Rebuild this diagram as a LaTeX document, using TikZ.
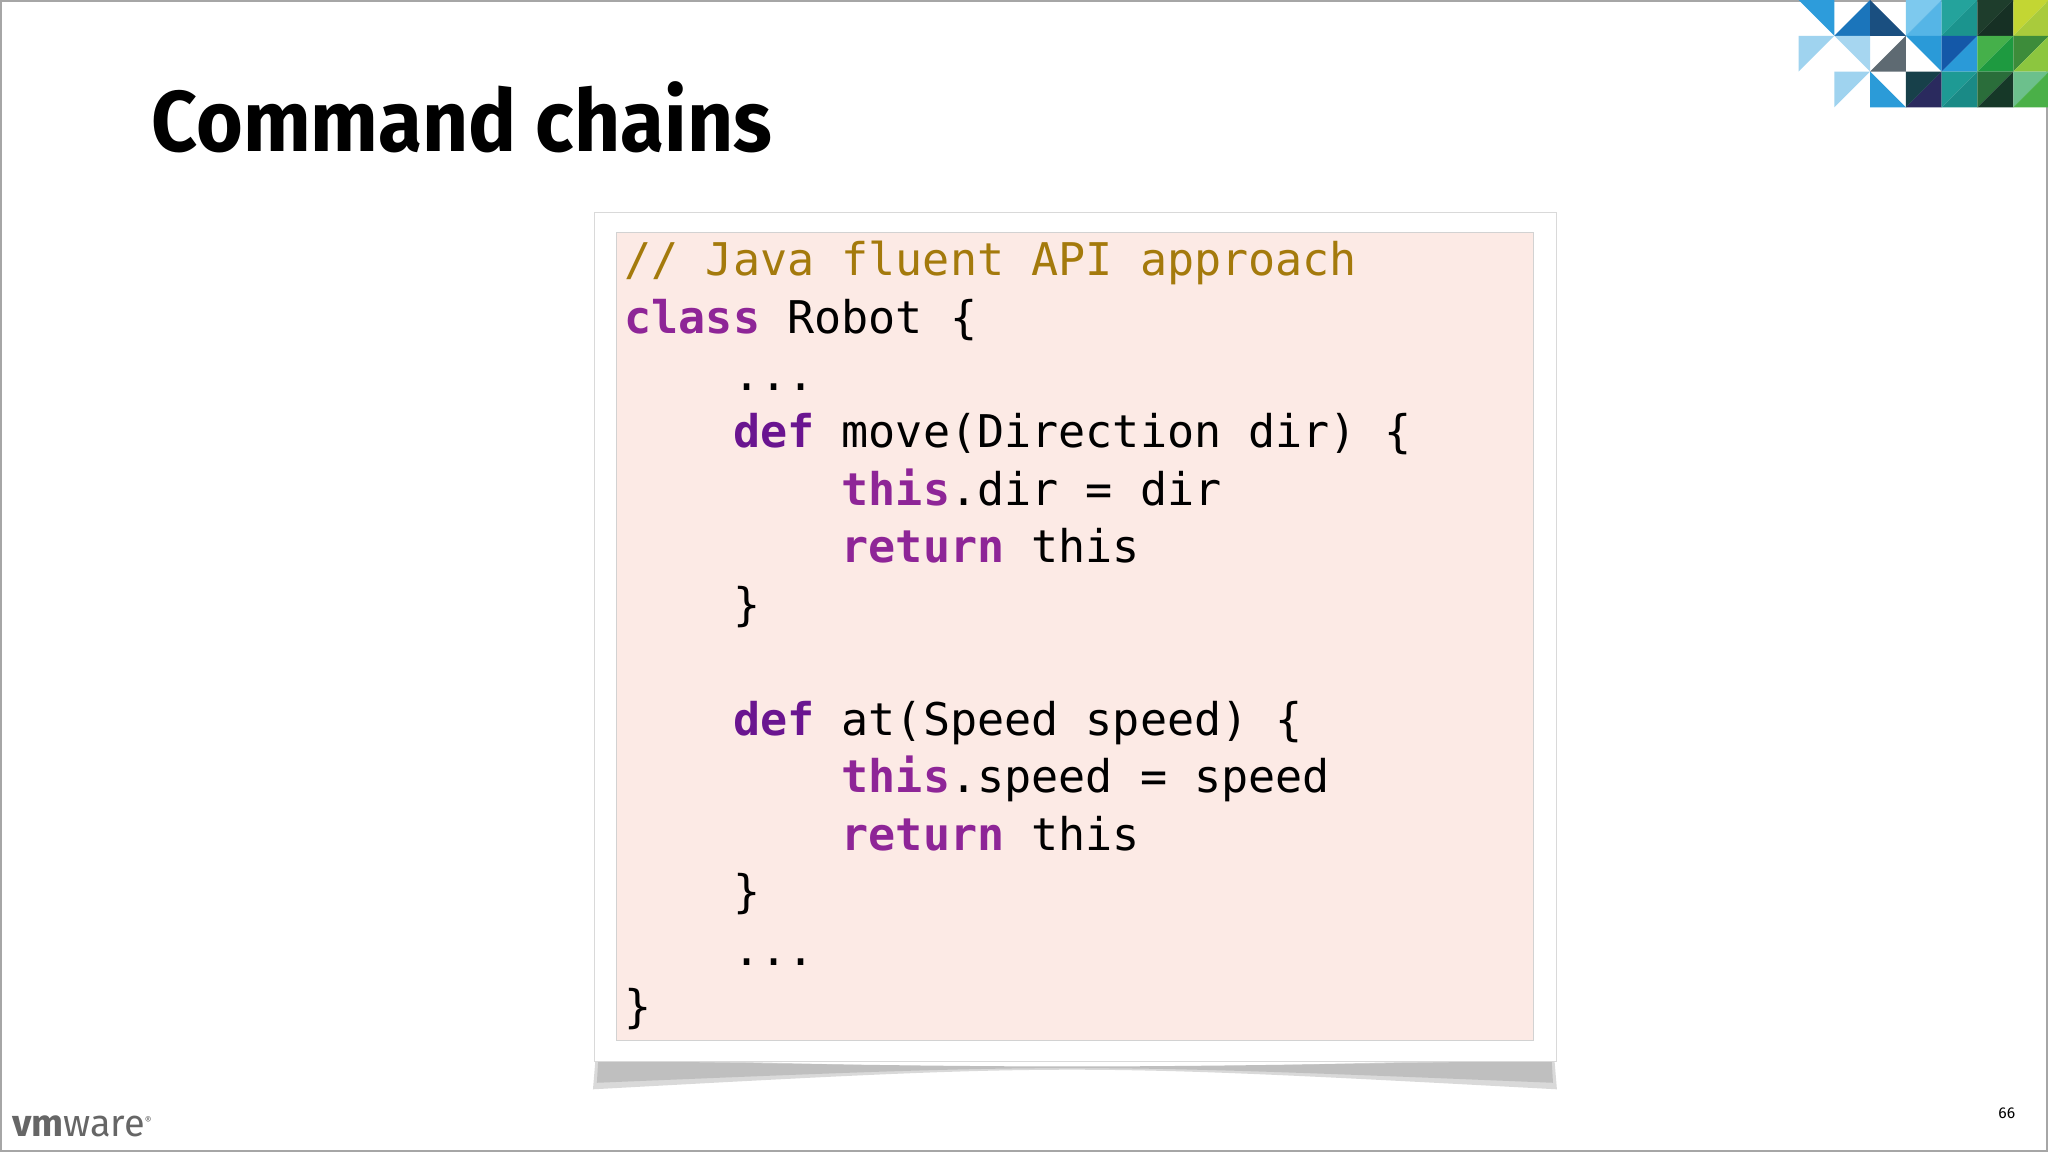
\documentclass[tikz,border=0pt]{standalone}
\usepackage{fontspec}
\setmainfont{Fira Sans}
\newfontfamily\codefont{DejaVu Sans Mono}
\newfontfamily\titlefont{Fira Sans}
\definecolor{cmt}{HTML}{A47A0C}
\definecolor{kw}{HTML}{8E2597}
\definecolor{kwd}{HTML}{6A1590}
\definecolor{codebg}{HTML}{FCEAE5}
\newcommand{\K}[1]{\textbf{\textcolor{kw}{#1}}}
\newcommand{\D}[1]{\textbf{\textcolor{kwd}{#1}}}
\begin{document}
\begin{tikzpicture}[x=1pt,y=-1pt,
  codeline/.style={anchor=base west,inner sep=0pt,font=\codefont\fontsize{34.5}{44}\selectfont}]
\useasboundingbox (0,0) rectangle (1568,882);
\fill[white] (0,0) rectangle (1568,882);
\draw[gray!70,line width=1.2] (0.6,0.6) rectangle (1567.4,881.4);
% corner triangles
\def\cs{27.4}
\def\ox{1377}
\newcommand{\UL}[3]{\definecolor{tc}{HTML}{#3}\fill[tc] ({\ox+#1*\cs},{#2*\cs}) -- ++(\cs,0) -- ++(-\cs,\cs) -- cycle;}
\newcommand{\UR}[3]{\definecolor{tc}{HTML}{#3}\fill[tc] ({\ox+#1*\cs},{#2*\cs}) -- ++(\cs,0) -- ++(0,\cs) -- cycle;}
\newcommand{\LL}[3]{\definecolor{tc}{HTML}{#3}\fill[tc] ({\ox+#1*\cs},{#2*\cs}) -- ++(0,\cs) -- ++(\cs,0) -- cycle;}
\newcommand{\LR}[3]{\definecolor{tc}{HTML}{#3}\fill[tc] ({\ox+#1*\cs+\cs},{#2*\cs}) -- ++(0,\cs) -- ++(-\cs,0) -- cycle;}
\UR{0}{0}{2D9CDB}
\LR{1}{0}{1B75BB}
\LL{2}{0}{1A4F80}
\UL{3}{0}{7DC9EE}\LR{3}{0}{55B5E6}
\UL{4}{0}{24A39C}\LR{4}{0}{1B948E}
\UL{5}{0}{1E3D2C}\LR{5}{0}{163024}
\UL{6}{0}{C3D633}\LR{6}{0}{A9CB3C}
\UL{0}{1}{9FD3EF}
\UR{1}{1}{A6D6F0}
\LR{2}{1}{5E6A72}
\UR{3}{1}{2A9AD8}
\UL{4}{1}{1458A8}\LR{4}{1}{2A9AD8}
\UL{5}{1}{45B04A}\LR{5}{1}{1E9A40}
\UL{6}{1}{3D8C3A}\LR{6}{1}{8CC63F}
\UL{1}{2}{9FD3EF}
\LL{2}{2}{2B9BD8}
\UL{3}{2}{17404A}\LR{3}{2}{2A2A5E}
\UL{4}{2}{1E9A94}\LR{4}{2}{1A8A86}
\UL{5}{2}{2A6D3A}\LR{5}{2}{163828}
\UL{6}{2}{6CC08C}\LR{6}{2}{4AB048}
% title
\node[anchor=base west,inner sep=0pt,font=\titlefont\fontsize{66}{70}\selectfont\bfseries,xscale=0.93] (title) at (116,116) {Command chains};
% frame with shadow
\fill[gray!30] (456,810) .. controls (820,820) .. (1190,810) -- (1192,834) .. controls (820,814) .. (454,834) -- cycle;
\fill[gray!50] (458,812) .. controls (820,818) .. (1188,812) -- (1189,829) .. controls (820,814) .. (457,829) -- cycle;
\node[draw=gray!30,fill=white,minimum width=736,minimum height=650,inner sep=0pt,anchor=north west] (frame) at (455,162) {};
\node[draw=gray!35,fill=codebg,minimum width=702,minimum height=618,inner sep=0pt,anchor=north west] (code) at (472,178) {};
% code lines
\def\bx{478}
\node[codeline,text=cmt] (l0) at (\bx,211) {// Java fluent API approach};
\node[codeline] (l1) at (\bx,255) {\K{class} Robot \{};
\node[codeline] (l2) at (\bx,299) {\phantom{xxxx}...};
\node[codeline] (l3) at (\bx,343) {\phantom{xxxx}\D{def} move(Direction dir) \{};
\node[codeline] (l4) at (\bx,387) {\phantom{xxxxxxxx}\K{this}.dir = dir};
\node[codeline] (l5) at (\bx,431) {\phantom{xxxxxxxx}\K{return} this};
\node[codeline] (l6) at (\bx,475) {\phantom{xxxx}\}};
\node[codeline] (l8) at (\bx,563) {\phantom{xxxx}\D{def} at(Speed speed) \{};
\node[codeline] (l9) at (\bx,607) {\phantom{xxxxxxxx}\K{this}.speed = speed};
\node[codeline] (l10) at (\bx,651) {\phantom{xxxxxxxx}\K{return} this};
\node[codeline] (l11) at (\bx,695) {\phantom{xxxx}\}};
\node[codeline] (l12) at (\bx,739) {\phantom{xxxx}...};
\node[codeline] (l13) at (\bx,783) {\}};
% footer
\node[anchor=base west,inner sep=0pt,text=gray!80!black,font=\fontsize{29}{30}\selectfont] (logo) at (9,870) {\textbf{vm}ware\textsuperscript{\fontsize{8}{8}\selectfont\textregistered}};
\node[anchor=base east,inner sep=0pt,font=\fontsize{12}{14}\selectfont] (pg) at (1543,856) {66};
\end{tikzpicture}
\end{document}
